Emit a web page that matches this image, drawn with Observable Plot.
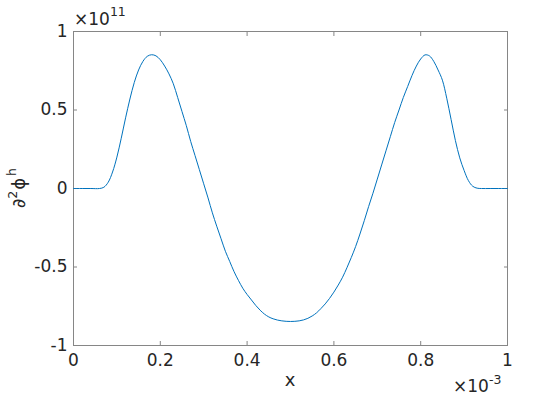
<!DOCTYPE html>
<html><head><meta charset="utf-8">
<script src="https://cdn.jsdelivr.net/npm/d3@7"></script>
<script src="https://cdn.jsdelivr.net/npm/@observablehq/plot@0.6"></script>
<style>body{margin:0;background:#fff}</style>
</head><body><div id="chart"></div>
<script>
// x in units of 1e-3, y in units of 1e11
const xs = [0, 0.02, 0.04, 0.06, 0.07, 0.08, 0.09, 0.10, 0.11, 0.12, 0.13, 0.14, 0.15, 0.16, 0.17, 0.18, 0.19, 0.20,
  0.21, 0.22, 0.23, 0.24, 0.25, 0.26, 0.27, 0.28, 0.29, 0.30, 0.31, 0.32, 0.33, 0.34, 0.35, 0.36, 0.37, 0.38, 0.39, 0.40,
  0.41, 0.42, 0.43, 0.44, 0.45, 0.46, 0.47, 0.48, 0.49, 0.50, 0.51, 0.52, 0.53, 0.54, 0.55, 0.56, 0.57, 0.58, 0.59, 0.60,
  0.61, 0.62, 0.63, 0.64, 0.65, 0.66, 0.67, 0.68, 0.69, 0.70, 0.71, 0.72, 0.73, 0.74, 0.75, 0.76, 0.77, 0.78, 0.79, 0.80,
  0.81, 0.82, 0.83, 0.84, 0.85, 0.86, 0.87, 0.88, 0.89, 0.90, 0.91, 0.92, 0.93, 0.94, 0.96, 0.98, 1.00];
const ys = [0, 0, 0, 0, 0.008, 0.04, 0.105, 0.20, 0.32, 0.45, 0.57, 0.675, 0.755, 0.81, 0.842, 0.852, 0.845, 0.82,
  0.78, 0.73, 0.667, 0.58, 0.49, 0.40, 0.30, 0.21, 0.12, 0.03, -0.06, -0.155, -0.24, -0.32, -0.40, -0.465, -0.53, -0.585, -0.635, -0.675,
  -0.71, -0.745, -0.775, -0.80, -0.818, -0.83, -0.838, -0.843, -0.846, -0.847, -0.846, -0.843, -0.837, -0.827, -0.812, -0.792, -0.765, -0.735, -0.70, -0.66,
  -0.615, -0.565, -0.505, -0.44, -0.37, -0.29, -0.205, -0.115, -0.03, 0.06, 0.15, 0.24, 0.33, 0.42, 0.50, 0.58, 0.65, 0.72, 0.78, 0.825,
  0.851, 0.845, 0.81, 0.755, 0.69, 0.575, 0.44, 0.305, 0.195, 0.115, 0.05, 0.014, 0.002, 0, 0, 0, 0];
const xTicks = [0, 0.2, 0.4, 0.6, 0.8, 1];
const yTicks = [-1, -0.5, 0, 0.5, 1];
const xLabel = "x";
const xExponent = "-3";
const yExponent = "11";

const data = xs.map((x, i) => ({x, y: ys[i]}));
const axisColor = "#868686";
const textColor = "#262626";
const font = "'DejaVu Sans', 'Liberation Sans', sans-serif";
const fmt = d => String(d);

const chart = Plot.plot({
  width: 560, height: 420,
  marginLeft: 73, marginRight: 53, marginTop: 31, marginBottom: 75,
  style: {fontFamily: font, fontSize: "17px", color: textColor, background: "#fff"},
  x: {domain: [0, 1]},
  y: {domain: [-1, 1]},
  marks: [
    Plot.frame({stroke: axisColor}),
    Plot.axisX({ticks: xTicks, anchor: "bottom", tickSize: -4, tickPadding: 12, stroke: axisColor, fill: textColor, fontSize: 17, tickFormat: fmt, label: null}),
    Plot.axisX({ticks: xTicks, anchor: "top", tickSize: -4, stroke: axisColor, tickFormat: () => "", label: null}),
    Plot.axisY({ticks: yTicks, anchor: "left", tickSize: -4, tickPadding: 10, stroke: axisColor, fill: textColor, fontSize: 17, tickFormat: fmt, label: null}),
    Plot.axisY({ticks: yTicks, anchor: "right", tickSize: -4, stroke: axisColor, tickFormat: () => "", label: null}),
    Plot.line(data, {x: "x", y: "y", stroke: "#0072BD", strokeWidth: 1, curve: "catmull-rom"})
  ]
});
document.getElementById("chart").append(chart);

const svg = d3.select(chart);
function addText(x, y, size) {
  return svg.append("text").attr("x", x).attr("y", y).attr("fill", textColor)
    .attr("text-anchor", "start").style("font-family", font).style("font-size", size + "px");
}
// top-left exponent
const t1 = addText(74, 25, 17);
t1.append("tspan").text("\u00d710");
t1.append("tspan").attr("dy", -9).style("font-size", "12.5px").text(yExponent);
// bottom-right exponent
const t2 = addText(453, 392, 17);
t2.append("tspan").text("\u00d710");
t2.append("tspan").attr("dy", -8).style("font-size", "12.5px").text(xExponent);
// x label
addText(290, 386, 18).attr("text-anchor", "middle").text(xLabel);
// y label
const t3 = svg.append("text").attr("transform", "translate(25,188) rotate(-90)").attr("text-anchor", "middle")
  .attr("fill", textColor).style("font-family", font).style("font-size", "18px");
t3.append("tspan").text("\u2202");
t3.append("tspan").attr("dy", -8).style("font-size", "12.5px").text("2");
t3.append("tspan").attr("dy", 8).attr("dx", 1).text("\u03d5");
t3.append("tspan").attr("dy", -9).attr("dx", 2).style("font-size", "12.5px").text("h");
</script>
</body></html>
